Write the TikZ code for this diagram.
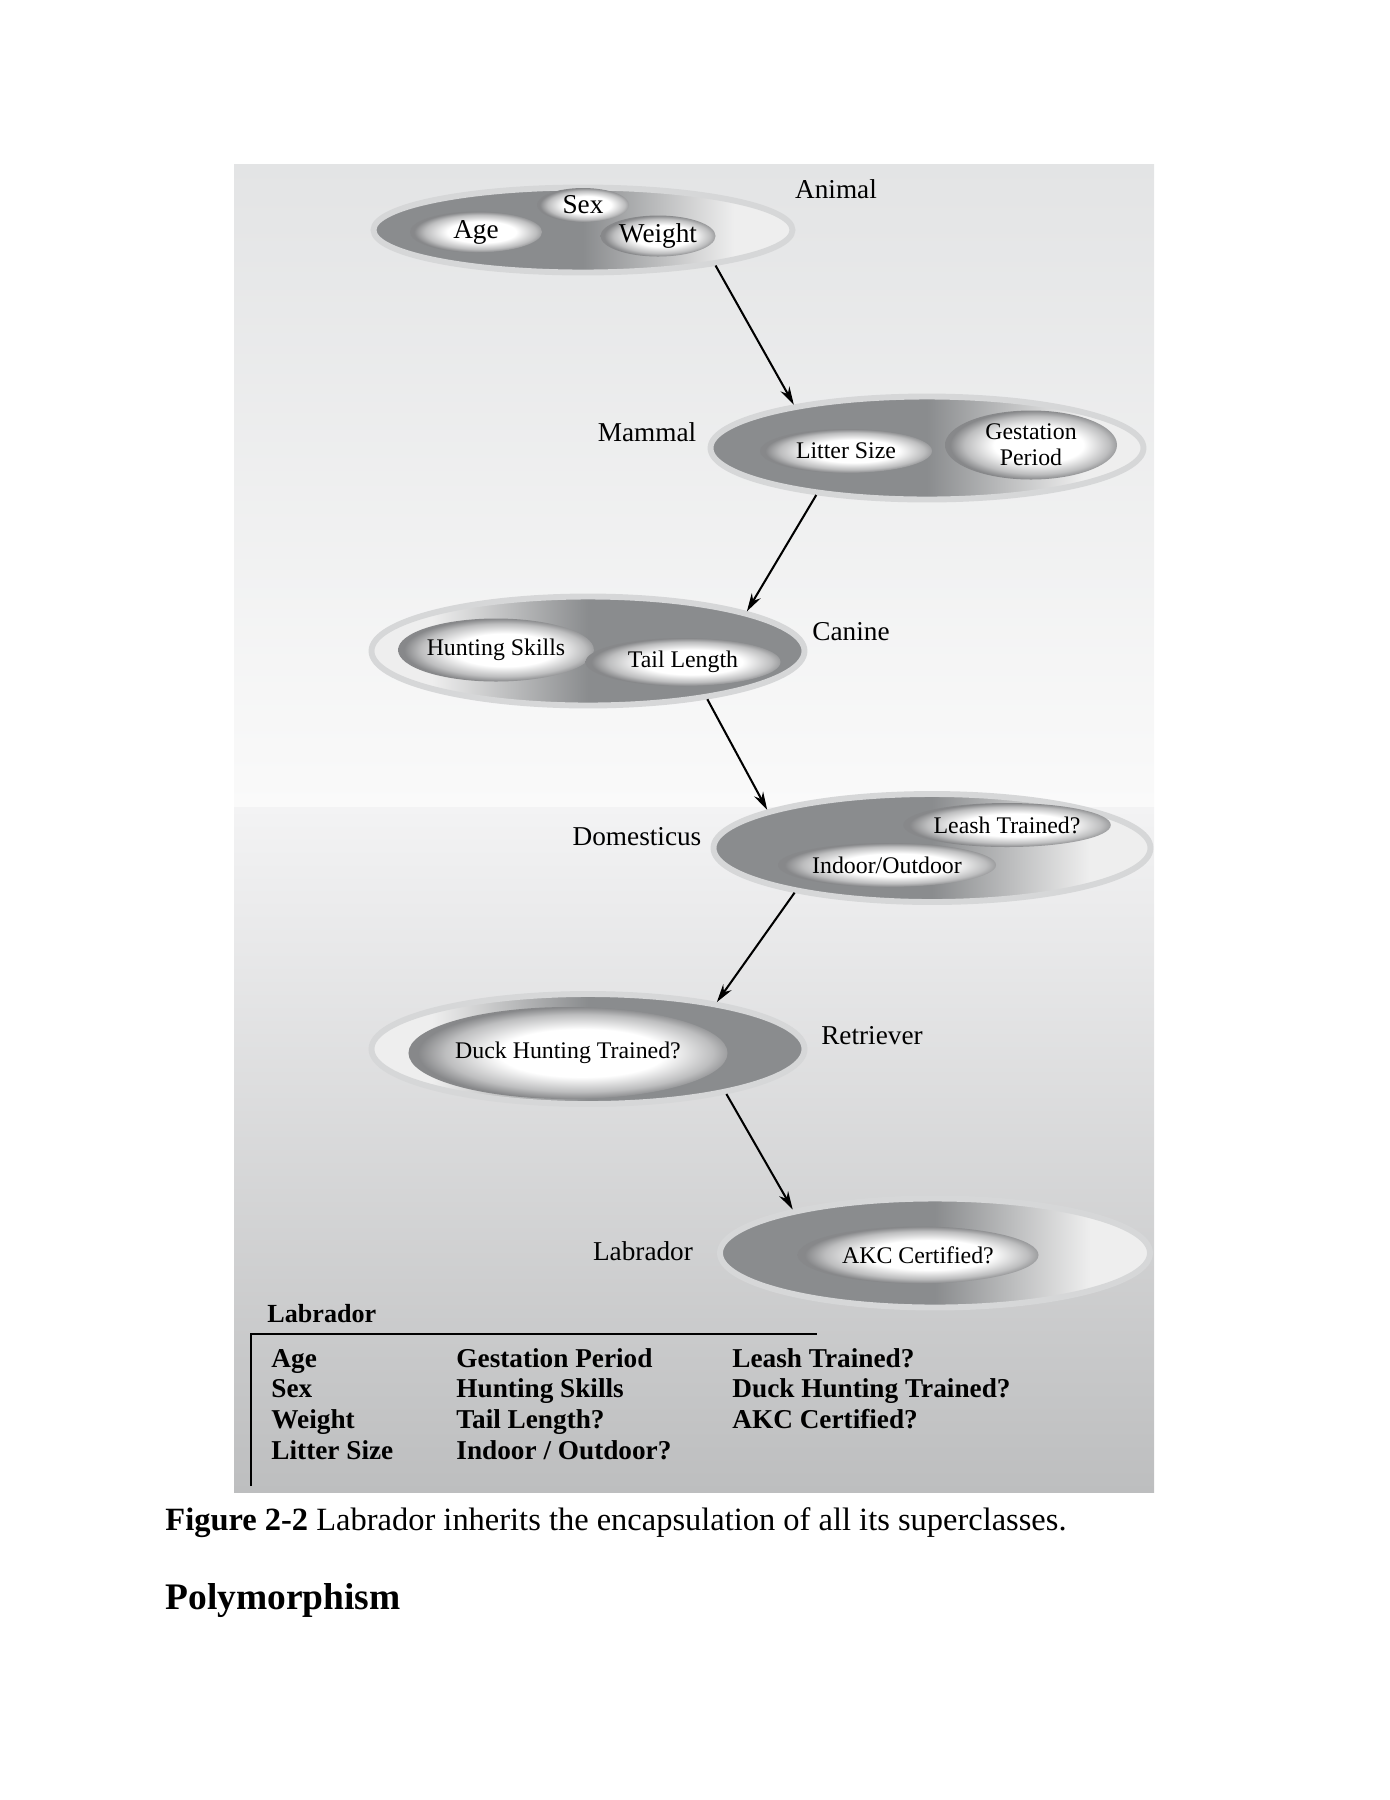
\documentclass[tikz,border=0pt]{standalone}
\usepackage{fontspec}
\setmainfont{Liberation Serif}
\usetikzlibrary{arrows.meta,positioning,shapes.geometric}
\definecolor{paneltop}{RGB}{227,228,229}
\definecolor{panelmid}{RGB}{250,250,250}
\definecolor{panellow}{RGB}{243,243,244}
\definecolor{panelend}{RGB}{189,190,191}
\definecolor{ovaldark}{RGB}{138,140,142}
\definecolor{ovallight}{RGB}{238,238,238}
\definecolor{ovalring}{RGB}{214,215,216}
\definecolor{blobedge}{RGB}{135,136,138}
\pgfdeclarehorizontalshading{ovalshade}{100bp}{color(0bp)=(ovaldark); color(25bp)=(ovaldark); color(50bp)=(ovaldark); color(68bp)=(ovallight); color(75bp)=(ovallight); color(100bp)=(ovallight)}
\pgfdeclareradialshading{blobshade}{\pgfpoint{3bp}{0bp}}{color(0bp)=(white); color(13bp)=(white); color(21bp)=(blobedge!55!white); color(25bp)=(blobedge); color(50bp)=(blobedge)}
\newdimen\pxu \pxu=0.4404pt

\begin{document}
\begin{tikzpicture}[
  x=0.4404pt, y=-0.4404pt,
  oval/.style 2 args={ellipse, shading=ovalshade, draw=ovalring, line width=2.6pt,
    inner sep=0pt, minimum width=#1*\pxu, minimum height=#2*\pxu},
  flip/.style={shading angle=180},
  blob/.style 2 args={ellipse, shading=blobshade, inner sep=0pt, align=center,
    minimum width=#1*\pxu, minimum height=#2*\pxu, font=\fontsize{10.5}{11.5}\selectfont},
  big/.style={font=\fontsize{12}{14}\selectfont},
  tag/.style={font=\fontsize{12}{14}\selectfont},
  attr/.style={anchor=base west, inner sep=0pt, font=\fontsize{12}{14}\selectfont\bfseries},
  link/.style={-{Stealth[length=8pt,width=4.5pt]}, line width=0.9pt}
]
\useasboundingbox (0,0) rectangle (1390,1800);
% panel behind the hierarchy
\fill[top color=paneltop, bottom color=panelmid] (234,164) rectangle (1154,807);
\fill[top color=panellow, bottom color=panelend] (234,807) rectangle (1154,1492);

% Animal
\node[oval={419}{85}] (animal) at (583,230) {};
\node[blob={132}{41}, big] (age) at (476,232) {Age};
\node[blob={92}{34}, big] (sex) at (583,205) {Sex};
\node[blob={115}{41}, big] (weight) at (658,236) {Weight};
\node[tag] (animaltag) at (836,189) {Animal};

% Mammal
\node[oval={433}{103}] (mammal) at (927,448) {};
\node[blob={172}{44}] (litter) at (846,451) {Litter Size};
\node[blob={172}{69}] (gestation) at (1031,445) {Gestation\\Period};
\node[tag] (mammaltag) at (647,432) {Mammal};

% Canine
\node[oval={433}{109}, flip] (canine) at (588,651) {};
\node[blob={189}{63}] (hunting) at (496,650) {Hunting Skills};
\node[blob={195}{48}] (tail) at (683,662) {Tail Length};
\node[tag] (caninetag) at (851,632) {Canine};

% Domesticus
\node[oval={437}{108}] (domesticus) at (932,848) {};
\node[blob={189}{44}] (leash) at (1007,825) {Leash Trained?};
\node[blob={218}{44}] (indoor) at (887,865) {Indoor/Outdoor};
\node[tag] (domesticustag) at (637,837) {Domesticus};

% Retriever
\node[oval={433}{110}, flip] (retriever) at (588,1049) {};
\node[blob={304}{92}] (duck) at (568,1053) {Duck Hunting Trained?};
\node[tag] (retrievertag) at (872,1036) {Retriever};

% Labrador
\node[oval={430}{109}] (labrador) at (935,1253) {};
\node[blob={241}{57}] (akc) at (918,1255) {AKC Certified?};
\node[tag] (labradortag) at (643,1251) {Labrador};

\draw[link] (animal.-15) -- (mammal.162);
\draw[link] (mammal.-157.5) -- (canine.14);
\draw[link] (canine.-22) -- (domesticus.167);
\draw[link] (domesticus.-162.5) -- (retriever.20);
\draw[link] (retriever.-18.5) -- (labrador.163.5);

% what a Labrador ends up with
\node[anchor=west, inner sep=0pt, font=\fontsize{11.5}{14}\selectfont\bfseries] (summary) at (267,1314) {Labrador};
\draw[line width=1pt] (251,1486) -- (251,1334) -- (817,1334);
\foreach \txt [count=\i] in {Age,Sex,Weight,Litter Size}
  \node[attr] (first-\i) at (271,{1367+(\i-1)*30.7}) {\txt};
\foreach \txt [count=\i] in {Gestation Period,Hunting Skills,Tail Length?,Indoor / Outdoor?}
  \node[attr] (second-\i) at (456,{1367+(\i-1)*30.7}) {\txt};
\foreach \txt [count=\i] in {Leash Trained?,Duck Hunting Trained?,AKC Certified?}
  \node[attr] (third-\i) at (732,{1367+(\i-1)*30.7}) {\txt};

\node[anchor=west, inner sep=0pt, font=\fontsize{14.3}{17}\selectfont] (caption) at (165,1523)
  {\textbf{Figure 2-2} Labrador inherits the encapsulation of all its superclasses.};
\node[anchor=west, inner sep=0pt, font=\fontsize{16.5}{20}\selectfont\bfseries] (section) at (165,1601) {Polymorphism};
\end{tikzpicture}
\end{document}
